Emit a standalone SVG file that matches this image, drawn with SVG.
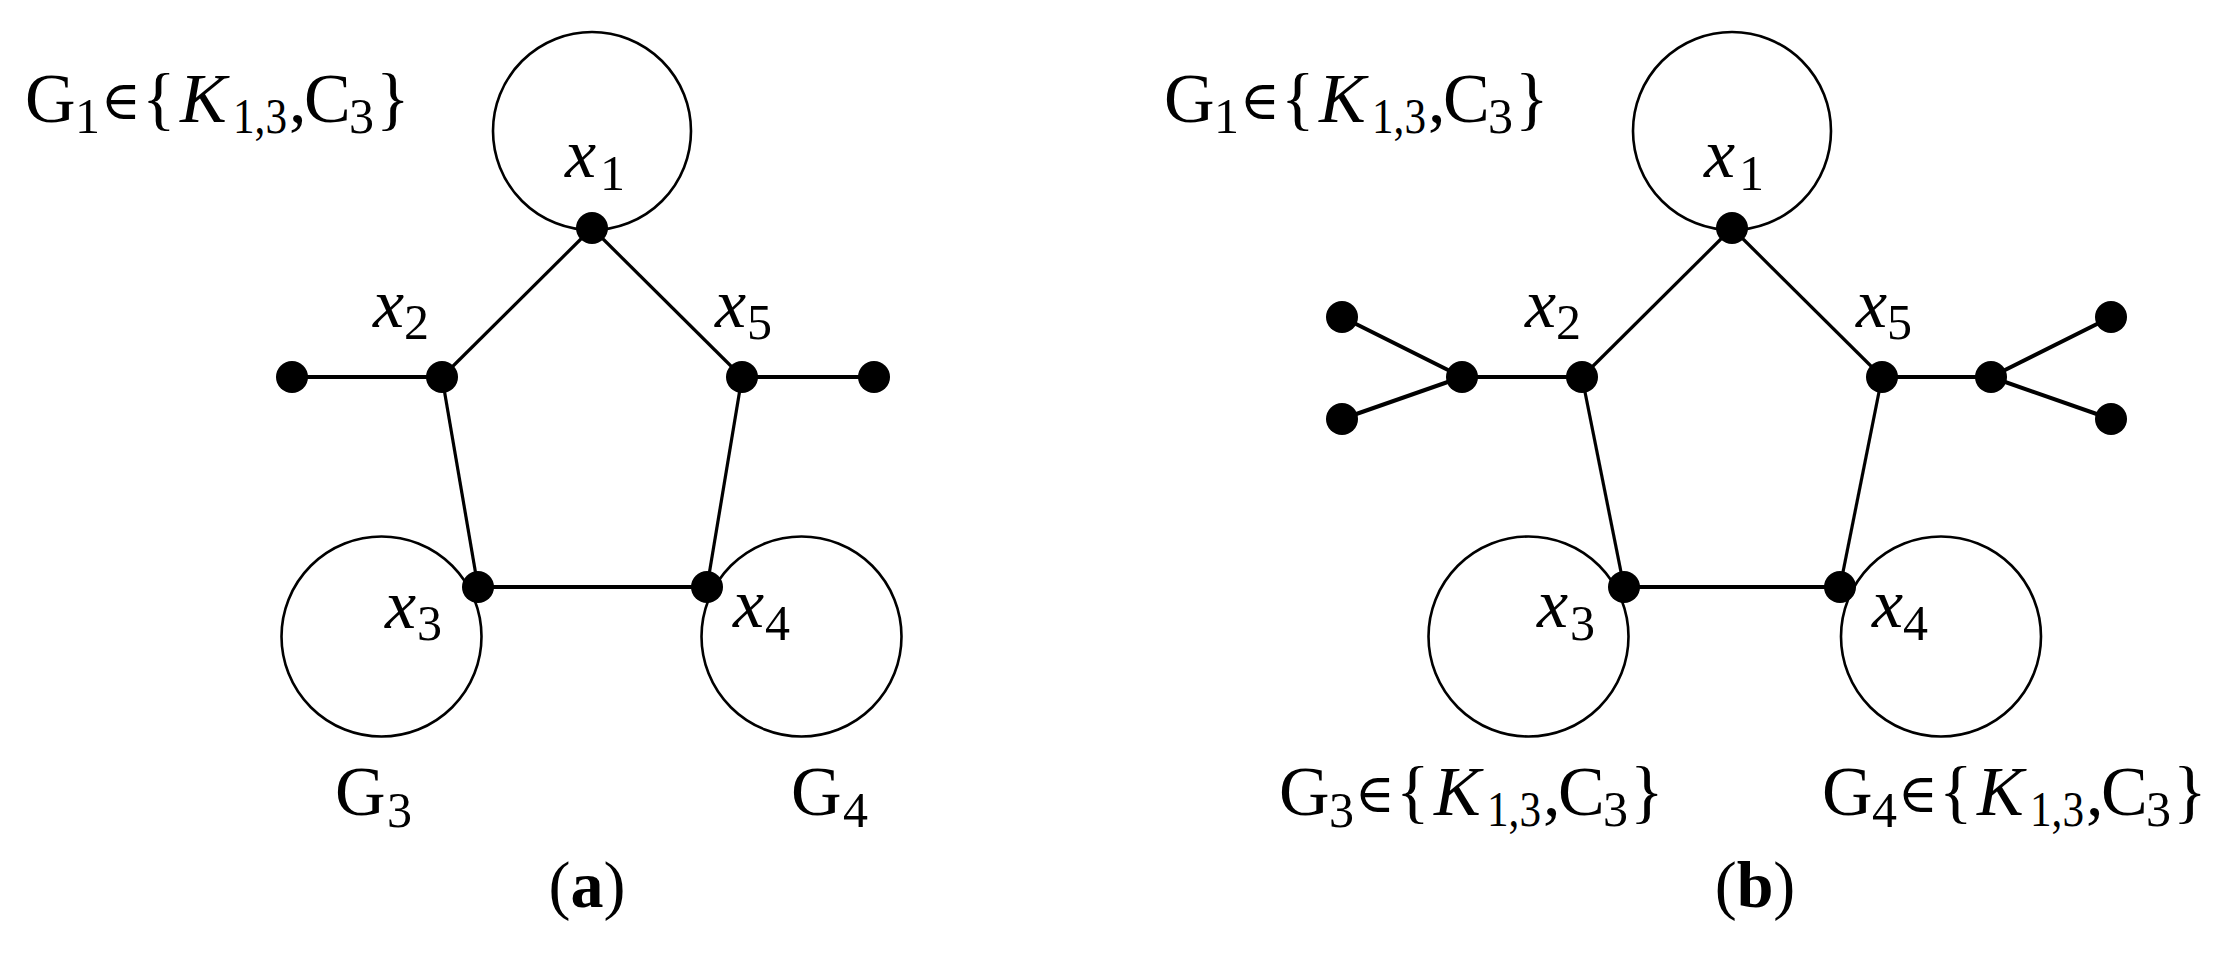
<svg xmlns="http://www.w3.org/2000/svg" width="2225" height="955" viewBox="0 0 2225 955">
<style>
.ring{fill:none;stroke:#000;stroke-width:2.6}
.e{stroke:#000;stroke-width:3.2;fill:none}
.eh{stroke:#000;stroke-width:4;fill:none}
.dot{fill:#000}
text{font-family:"Liberation Serif","Times New Roman",serif;fill:#000}
.m{font-size:70px}
.s{font-size:50px}
.i{font-style:italic}
.in{font-family:"DejaVu Serif",serif;font-size:54px}
.cap{font-size:66px}
.b{font-weight:bold}
</style>
<defs>
<g id="setlabel">
<text class="m" x="0" y="0">{</text><text class="m i" x="38" y="0">K</text><text class="s" x="91" y="11" textLength="54" lengthAdjust="spacingAndGlyphs">1,3</text><text class="m" x="147" y="0">,</text><text class="m" x="162" y="0">C</text><text class="s" x="207" y="11">3</text><text class="m" x="234" y="0">}</text>
</g>
</defs>
<rect width="2225" height="955" fill="#fff"/>
<g id="connectors">
<line class="e" x1="592" y1="228" x2="442" y2="377"/>
<line class="e" x1="592" y1="228" x2="742" y2="377"/>
<line class="e" x1="442" y1="377" x2="478" y2="587"/>
<line class="e" x1="742" y1="377" x2="707" y2="587"/>
<line class="eh" x1="478" y1="587" x2="707" y2="587"/>
<line class="eh" x1="292" y1="377" x2="442" y2="377"/>
<line class="eh" x1="742" y1="377" x2="874" y2="377"/>
<line class="e" x1="1732" y1="228" x2="1582" y2="377"/>
<line class="e" x1="1732" y1="228" x2="1882" y2="377"/>
<line class="e" x1="1582" y1="377" x2="1624" y2="587"/>
<line class="e" x1="1882" y1="377" x2="1840" y2="587"/>
<line class="eh" x1="1624" y1="587" x2="1840" y2="587"/>
<line class="eh" x1="1462" y1="377" x2="1582" y2="377"/>
<line class="eh" x1="1882" y1="377" x2="1991" y2="377"/>
<line class="eh" x1="1342" y1="317" x2="1462" y2="377"/>
<line class="eh" x1="1342" y1="419" x2="1462" y2="377"/>
<line class="eh" x1="2111" y1="317" x2="1991" y2="377"/>
<line class="eh" x1="2111" y1="419" x2="1991" y2="377"/>
</g>
<g id="fig-a">
<g id="a-G1"><circle class="ring" cx="592" cy="131" r="99"/></g>
<g id="a-G3"><circle class="ring" cx="381.5" cy="636.5" r="100"/></g>
<g id="a-G4"><circle class="ring" cx="801.5" cy="636.5" r="100"/></g>
<g id="a-x1"><circle class="dot" cx="592" cy="228" r="16"/><text class="m i" x="565" y="177">x</text><text class="s" x="600" y="190">1</text></g>
<g id="a-x2"><circle class="dot" cx="442" cy="377" r="16"/><text class="m i" x="373" y="327">x</text><text class="s" x="404" y="339">2</text></g>
<g id="a-x5"><circle class="dot" cx="742" cy="377" r="16"/><text class="m i" x="715" y="327">x</text><text class="s" x="747" y="339">5</text></g>
<g id="a-x3"><circle class="dot" cx="478" cy="587" r="16"/><text class="m i" x="385" y="628">x</text><text class="s" x="417" y="640">3</text></g>
<g id="a-x4"><circle class="dot" cx="707" cy="587" r="16"/><text class="m i" x="733" y="627">x</text><text class="s" x="765" y="640">4</text></g>
<g id="a-leafL"><circle class="dot" cx="292" cy="377" r="16"/></g>
<g id="a-leafR"><circle class="dot" cx="874" cy="377" r="16"/></g>
<g id="a-label-G1"><text class="m" x="25" y="122">G</text><text class="s" x="75" y="133">1</text><text class="in" x="101" y="119">∈</text><use href="#setlabel" x="142" y="122"/></g>
<g id="a-label-G3"><text class="m" x="335" y="815">G</text><text class="s" x="387" y="827">3</text></g>
<g id="a-label-G4"><text class="m" x="791" y="815">G</text><text class="s" x="843" y="827">4</text></g>
<g id="a-caption"><text class="cap" x="587" y="907" text-anchor="middle">(<tspan class="b">a</tspan>)</text></g>
</g>
<g id="fig-b">
<g id="b-G1"><circle class="ring" cx="1732" cy="131" r="99"/></g>
<g id="b-G3"><circle class="ring" cx="1528.5" cy="636.5" r="100"/></g>
<g id="b-G4"><circle class="ring" cx="1941" cy="636.5" r="100"/></g>
<g id="b-x1"><circle class="dot" cx="1732" cy="228" r="16"/><text class="m i" x="1704" y="177">x</text><text class="s" x="1739" y="190">1</text></g>
<g id="b-x2"><circle class="dot" cx="1582" cy="377" r="16"/><text class="m i" x="1525" y="327">x</text><text class="s" x="1556" y="339">2</text></g>
<g id="b-x5"><circle class="dot" cx="1882" cy="377" r="16"/><text class="m i" x="1856" y="327">x</text><text class="s" x="1887" y="339">5</text></g>
<g id="b-x3"><circle class="dot" cx="1624" cy="587" r="16"/><text class="m i" x="1537" y="627">x</text><text class="s" x="1570" y="640">3</text></g>
<g id="b-x4"><circle class="dot" cx="1840" cy="587" r="16"/><text class="m i" x="1872" y="627">x</text><text class="s" x="1903" y="640">4</text></g>
<g id="b-branchL"><circle class="dot" cx="1462" cy="377" r="16"/></g>
<g id="b-leafL1"><circle class="dot" cx="1342" cy="317" r="16"/></g>
<g id="b-leafL2"><circle class="dot" cx="1342" cy="419" r="16"/></g>
<g id="b-branchR"><circle class="dot" cx="1991" cy="377" r="16"/></g>
<g id="b-leafR1"><circle class="dot" cx="2111" cy="317" r="16"/></g>
<g id="b-leafR2"><circle class="dot" cx="2111" cy="419" r="16"/></g>
<g id="b-label-G1"><text class="m" x="1164" y="122">G</text><text class="s" x="1214" y="133">1</text><text class="in" x="1240" y="119">∈</text><use href="#setlabel" x="1281" y="122"/></g>
<g id="b-label-G3"><text class="m" x="1279" y="815">G</text><text class="s" x="1329" y="827">3</text><text class="in" x="1355" y="812">∈</text><use href="#setlabel" x="1396" y="815"/></g>
<g id="b-label-G4"><text class="m" x="1822" y="815">G</text><text class="s" x="1872" y="827">4</text><text class="in" x="1898" y="812">∈</text><use href="#setlabel" x="1939" y="815"/></g>
<g id="b-caption"><text class="cap" x="1755" y="907" text-anchor="middle">(<tspan class="b">b</tspan>)</text></g>
</g>
</svg>
